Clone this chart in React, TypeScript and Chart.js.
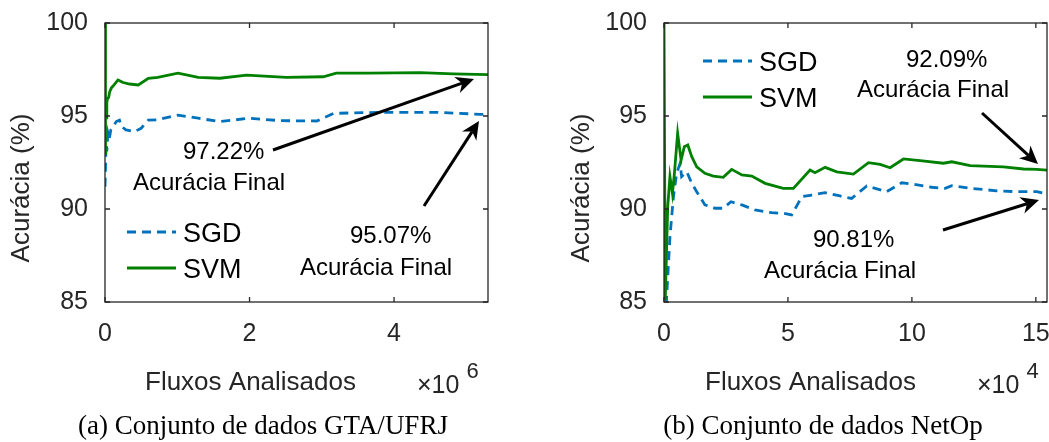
import React, { useEffect, useRef } from "react";
import { Chart, registerables } from "chart.js";

Chart.register(...registerables);

// ---------------- data ----------------
// (a) GTA/UFRJ  — x in units of 10^6 flows
const gtaSgdX = [0, 0.01, 0.018, 0.025, 0.04, 0.06, 0.08, 0.11, 0.157, 0.2, 0.23, 0.29, 0.41, 0.5, 0.6, 0.73, 1.01, 1.29, 1.59, 2.0, 2.42, 2.93, 3.16, 3.57, 4.13, 4.59, 5.19, 5.3];
const gtaSgdY = [91.2, 92.8, 93.5, 93.1, 94.1, 93.8, 94.25, 94.43, 94.7, 94.78, 94.43, 94.25, 94.16, 94.34, 94.78, 94.8, 95.05, 94.88, 94.7, 94.88, 94.75, 94.73, 95.14, 95.18, 95.2, 95.2, 95.09, 95.07];
const gtaSvmX = [0, 0.003, 0.01, 0.015, 0.025, 0.032, 0.05, 0.065, 0.087, 0.125, 0.18, 0.25, 0.34, 0.46, 0.6, 0.73, 1.01, 1.29, 1.59, 1.96, 2.51, 3.02, 3.2, 3.66, 4.36, 4.82, 5.3];
const gtaSvmY = [100, 92.9, 95.6, 94.9, 95.7, 95.9, 96.0, 96.3, 96.5, 96.67, 96.94, 96.8, 96.72, 96.67, 97.03, 97.08, 97.3, 97.08, 97.03, 97.2, 97.08, 97.11, 97.3, 97.3, 97.33, 97.26, 97.22];
const gtaXTicks = [0, 2, 4];

// (b) NetOp — x in units of 10^4 flows
const netSgdX = [0, 0.1, 0.24, 0.38, 0.51, 0.65, 0.71, 0.92, 1.12, 1.32, 1.65, 2.06, 2.39, 2.7, 3.14, 3.67, 4.35, 4.81, 5.15, 5.56, 5.96, 6.5, 7.1, 7.57, 8.18, 8.98, 9.59, 10.06, 10.8, 11.34, 11.61, 12.35, 13.42, 14.23, 15.04, 15.45];
const netSgdY = [80, 85.1, 88.5, 90.66, 91.92, 92.46, 91.74, 92.0, 91.38, 90.93, 90.22, 90.04, 90.04, 90.39, 90.22, 89.95, 89.8, 89.77, 89.68, 90.66, 90.75, 90.88, 90.7, 90.57, 91.24, 90.93, 91.41, 91.33, 91.17, 91.11, 91.25, 91.11, 90.98, 90.93, 90.93, 90.81];
const netSvmX = [0, 0.05, 0.15, 0.24, 0.34, 0.42, 0.55, 0.69, 0.82, 0.96, 1.12, 1.32, 1.65, 1.99, 2.39, 2.73, 3.14, 3.54, 4.08, 4.81, 5.22, 5.89, 6.09, 6.5, 6.97, 7.64, 8.25, 8.72, 9.12, 9.66, 10.33, 11.27, 11.61, 12.35, 13.69, 14.5, 15.04, 15.45];
const netSvmY = [100, 85.1, 90.12, 91.74, 90.84, 91.92, 94.07, 92.63, 93.35, 93.44, 92.81, 92.27, 91.92, 91.77, 91.7, 92.13, 91.83, 91.77, 91.38, 91.11, 91.11, 92.1, 91.95, 92.24, 92.0, 91.88, 92.49, 92.4, 92.22, 92.69, 92.6, 92.46, 92.54, 92.33, 92.27, 92.15, 92.13, 92.09];
const netXTicks = [0, 5, 10, 15];

const yTicks = [85, 90, 95, 100];
const seriesNames = ["SGD", "SVM"];

// ---------------- styles ----------------
const SANS = '"Liberation Sans", Arial, Helvetica, sans-serif';
const SERIF = '"Liberation Serif", "Times New Roman", serif';
const AXIS = "#262626";
const BLUE = "#0072BD";
const GREEN = "#008000";
const H = 442;

type Txt = { t: string; x: number; y: number };
type Arrow = { x1: number; y1: number; x2: number; y2: number };
type PanelCfg = {
  offset: number;
  width: number;
  areaLeft: number;
  areaRight: number;
  areaTop: number;
  areaBottom: number;
  xMax: number;
  xTicks: number[];
  sgdX: number[];
  sgdY: number[];
  svmX: number[];
  svmY: number[];
  texts: Txt[];
  arrows: Arrow[];
  legend: { x: number; y1: number; y2: number };
  ylabel: { x: number; y: number };
  xlabel: { x: number; y: number };
  exp: { x: number; y: number; p: string };
  caption: { t: string; x: number; y: number };
};

const panels: PanelCfg[] = [
  {
    offset: 0,
    width: 525,
    areaLeft: 105,
    areaRight: 488,
    areaTop: 23,
    areaBottom: 302,
    xMax: 5.3,
    xTicks: gtaXTicks,
    sgdX: gtaSgdX,
    sgdY: gtaSgdY,
    svmX: gtaSvmX,
    svmY: gtaSvmY,
    texts: [
      { t: "97.22%", x: 183, y: 159 },
      { t: "Acurácia Final", x: 133, y: 190 },
      { t: "95.07%", x: 350, y: 243 },
      { t: "Acurácia Final", x: 300, y: 275 },
    ],
    arrows: [
      { x1: 273, y1: 150, x2: 474, y2: 79 },
      { x1: 424, y1: 206, x2: 479, y2: 121 },
    ],
    legend: { x: 127, y1: 232, y2: 268 },
    ylabel: { x: 22, y: 188 },
    xlabel: { x: 145, y: 390 },
    exp: { x: 417, y: 393, p: "6" },
    caption: { t: "(a) Conjunto de dados GTA/UFRJ", x: 263, y: 434 },
  },
  {
    offset: 525,
    width: 524,
    areaLeft: 664,
    areaRight: 1047,
    areaTop: 23,
    areaBottom: 302,
    xMax: 15.45,
    xTicks: netXTicks,
    sgdX: netSgdX,
    sgdY: netSgdY,
    svmX: netSvmX,
    svmY: netSvmY,
    texts: [
      { t: "92.09%", x: 906, y: 67 },
      { t: "Acurácia Final", x: 857, y: 97 },
      { t: "90.81%", x: 813, y: 247 },
      { t: "Acurácia Final", x: 764, y: 278 },
    ],
    arrows: [
      { x1: 982, y1: 113, x2: 1038, y2: 164 },
      { x1: 943, y1: 230, x2: 1039, y2: 200 },
    ],
    legend: { x: 703, y1: 61, y2: 97 },
    ylabel: { x: 582, y: 188 },
    xlabel: { x: 705, y: 390 },
    exp: { x: 977, y: 393, p: "4" },
    caption: { t: "(b) Conjunto de dados NetOp", x: 823, y: 434 },
  },
];

function drawArrow(ctx: CanvasRenderingContext2D, a: Arrow, ox: number) {
  const x1 = a.x1 - ox, x2 = a.x2 - ox;
  const dx = x2 - x1, dy = a.y2 - a.y1;
  const len = Math.hypot(dx, dy);
  const ux = dx / len, uy = dy / len;
  const nx = -uy, ny = ux;
  const L = 18, W = 8.5;
  const bx = x2 - L * ux, by = a.y2 - L * uy;
  const mx = x2 - 0.7 * L * ux, my = a.y2 - 0.7 * L * uy;
  ctx.strokeStyle = "#000";
  ctx.fillStyle = "#000";
  ctx.lineWidth = 3;
  ctx.beginPath();
  ctx.moveTo(x1, a.y1);
  ctx.lineTo(mx, my);
  ctx.stroke();
  ctx.beginPath();
  ctx.moveTo(x2, a.y2);
  ctx.lineTo(bx + W * nx, by + W * ny);
  ctx.lineTo(mx, my);
  ctx.lineTo(bx - W * nx, by - W * ny);
  ctx.closePath();
  ctx.fill();
}

function makeDecor(cfg: PanelCfg) {
  return {
    id: "decor" + cfg.offset,
    afterDatasetsDraw(chart: any) {
      const ctx: CanvasRenderingContext2D = chart.ctx;
      const { left, right, top, bottom } = chart.chartArea;
      const sx = chart.scales.x, sy = chart.scales.y;
      const ox = cfg.offset;
      ctx.save();
      // box
      ctx.strokeStyle = AXIS;
      ctx.lineWidth = 1.3;
      ctx.strokeRect(left, top, right - left, bottom - top);
      // inward ticks
      const tl = 5;
      ctx.beginPath();
      for (const v of cfg.xTicks) {
        const px = sx.getPixelForValue(v);
        ctx.moveTo(px, bottom);
        ctx.lineTo(px, bottom - tl);
        ctx.moveTo(px, top);
        ctx.lineTo(px, top + tl);
      }
      for (const v of yTicks) {
        const py = sy.getPixelForValue(v);
        ctx.moveTo(left, py);
        ctx.lineTo(left + tl, py);
        ctx.moveTo(right, py);
        ctx.lineTo(right - tl, py);
      }
      ctx.stroke();

      // annotations
      ctx.fillStyle = "#000";
      ctx.textBaseline = "alphabetic";
      ctx.textAlign = "left";
      ctx.font = `24px ${SANS}`;
      for (const t of cfg.texts) ctx.fillText(t.t, t.x - ox, t.y);
      for (const a of cfg.arrows) drawArrow(ctx, a, ox);

      // legend
      const lg = cfg.legend;
      const ds = chart.data.datasets;
      const rows = [lg.y1, lg.y2];
      ds.forEach((d: any, i: number) => {
        const y = rows[i];
        ctx.strokeStyle = d.borderColor;
        ctx.lineWidth = d.borderWidth;
        ctx.setLineDash(d.borderDash || []);
        ctx.beginPath();
        ctx.moveTo(lg.x - ox, y);
        ctx.lineTo(lg.x + 49 - ox, y);
        ctx.stroke();
        ctx.setLineDash([]);
        ctx.fillStyle = "#000";
        ctx.font = `27px ${SANS}`;
        ctx.fillText(d.label, lg.x + 56 - ox, y + 10);
      });

      // axis labels
      ctx.fillStyle = AXIS;
      ctx.font = `26px ${SANS}`;
      ctx.fillText("Fluxos Analisados", cfg.xlabel.x - ox, cfg.xlabel.y);
      ctx.font = `25px ${SANS}`;
      ctx.fillText("×10", cfg.exp.x - ox, cfg.exp.y);
      const w = ctx.measureText("×10").width;
      ctx.font = `22px ${SANS}`;
      ctx.fillText(cfg.exp.p, cfg.exp.x - ox + w + 7, cfg.exp.y - 15);

      ctx.save();
      ctx.translate(cfg.ylabel.x - ox, cfg.ylabel.y);
      ctx.rotate(-Math.PI / 2);
      ctx.textAlign = "center";
      ctx.textBaseline = "middle";
      ctx.font = `26px ${SANS}`;
      ctx.fillText("Acurácia (%)", 0, 0);
      ctx.restore();

      // caption
      ctx.fillStyle = "#000";
      ctx.textAlign = "center";
      ctx.font = `27px ${SERIF}`;
      ctx.fillText(cfg.caption.t, cfg.caption.x - ox, cfg.caption.y);
      ctx.restore();
    },
  };
}

function Panel({ cfg }: { cfg: PanelCfg }) {
  const ref = useRef<HTMLCanvasElement>(null);
  useEffect(() => {
    const canvas = ref.current!;
    const localLeft = cfg.areaLeft - cfg.offset;
    const padRight = cfg.offset + cfg.width - cfg.areaRight;
    const chart = new Chart(canvas, {
      type: "line",
      data: {
        datasets: [
          {
            label: seriesNames[0],
            data: cfg.sgdX.map((x, i) => ({ x, y: cfg.sgdY[i] })),
            borderColor: BLUE,
            borderWidth: 2.8,
            borderDash: [9, 6],
            pointRadius: 0,
            tension: 0,
            fill: false,
            order: 1,
          },
          {
            label: seriesNames[1],
            data: cfg.svmX.map((x, i) => ({ x, y: cfg.svmY[i] })),
            borderColor: GREEN,
            borderWidth: 2.8,
            pointRadius: 0,
            tension: 0,
            fill: false,
            order: 0,
          },
        ],
      },
      options: {
        responsive: false,
        animation: false,
        events: [],
        layout: { padding: { left: 0, right: padRight, top: cfg.areaTop, bottom: 0 } },
        plugins: { legend: { display: false }, tooltip: { enabled: false }, title: { display: false } },
        scales: {
          x: {
            type: "linear",
            min: 0,
            max: cfg.xMax,
            grid: { display: false, drawTicks: false },
            border: { display: false },
            afterBuildTicks: (s: any) => {
              s.ticks = cfg.xTicks.map((v) => ({ value: v }));
            },
            afterFit: (s: any) => {
              s.height = H - cfg.areaBottom;
              s.paddingLeft = 0;
              s.paddingRight = 0;
            },
            ticks: {
              autoSkip: false,
              maxRotation: 0,
              padding: 17,
              color: AXIS,
              font: { family: SANS, size: 25 },
            },
          },
          y: {
            type: "linear",
            min: 85,
            max: 100,
            grid: { display: false, drawTicks: false },
            border: { display: false },
            afterBuildTicks: (s: any) => {
              s.ticks = yTicks.map((v) => ({ value: v }));
            },
            afterFit: (s: any) => {
              s.width = localLeft;
              s.paddingTop = 0;
              s.paddingBottom = 0;
            },
            ticks: {
              padding: 17,
              color: AXIS,
              font: { family: SANS, size: 25 },
            },
          },
        },
      },
      plugins: [makeDecor(cfg)],
    } as any);
    return () => chart.destroy();
  }, [cfg]);
  return (
    <canvas
      ref={ref}
      width={cfg.width}
      height={H}
      style={{ position: "absolute", left: cfg.offset, top: 0, width: cfg.width, height: H }}
    />
  );
}

export default function App() {
  return (
    <div style={{ position: "fixed", left: 0, top: 0, width: 1049, height: H, background: "#fff", overflow: "hidden" }}>
      {panels.map((p) => (
        <Panel key={p.offset} cfg={p} />
      ))}
    </div>
  );
}
